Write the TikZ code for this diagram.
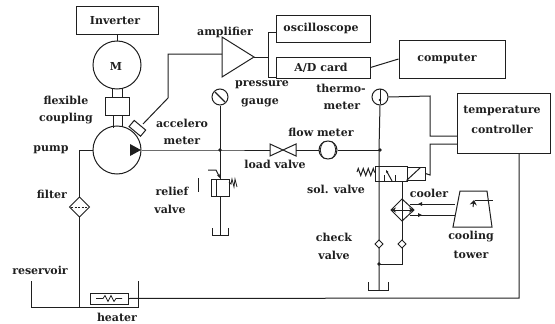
\documentclass[tikz,border=0pt]{standalone}
\usepackage{fontspec}
\setmainfont{DejaVu Serif}
\usetikzlibrary{calc,arrows.meta,decorations.pathmorphing}
\definecolor{ink}{gray}{0.12}
\tikzset{
 box/.style={draw,rectangle,inner sep=0pt,minimum width=#1},
 boxh/.style={minimum height=#1},
 circ/.style={draw,circle,inner sep=0pt,minimum size=#1},
 lbl/.style={inner sep=0pt,text=ink,font=\fontsize{11}{12}\selectfont\bfseries},
 dotj/.style={circle,fill=ink,inner sep=0pt,minimum size=3.6pt},
 zig/.style={decorate,decoration={zigzag,segment length=5pt,amplitude=3.5pt}},
}
\begin{document}
\begin{tikzpicture}[x=1pt,y=-1pt,line width=1pt,color=ink]
\useasboundingbox (0,0) rectangle (555,324);
% boxes
\node[box=82pt,boxh=28pt] (inv) at (117,20) {};
\node[circ=48pt] (motor) at (117,65) {};
\node[box=24pt,boxh=18pt] (coup) at (117,106) {};
\node[circ=48pt] (pump) at (117,150) {};
\node[box=94pt,boxh=27pt] (osc) at (323,28.5) {};
\node[box=94pt,boxh=21pt] (adc) at (323,67.5) {};
\node[box=106pt,boxh=38pt] (comp) at (452,59) {};
\node[box=93pt,boxh=60pt] (tc) at (503.5,123) {};
\node[box=38pt,boxh=11pt] (heat) at (109,298.5) {};
\node[box=18pt,boxh=17pt] (relief) at (220,187.5) {};
\node[box=32pt,boxh=15pt] (sol) at (391,173.5) {};
\node[box=18pt,boxh=13pt] (solen) at (416,173.5) {};
\node[circ=16pt] (pg) at (220,97) {};
\node[circ=16pt] (th) at (380,97) {};
\node[circ=18pt] (fm) at (328,150) {};
% coordinates
\coordinate (j1) at (220,150);
\coordinate (j2) at (380,150);
\coordinate (j3) at (379,264);
\coordinate (lvL) at (270,150);
\coordinate (lvR) at (296,150);
\coordinate (amp) at (254,57);
\coordinate (ampin) at (222,54);
\coordinate (acc) at (143,124);
\coordinate (cv1) at (379,244);
\coordinate (cv2) at (402,244);
% motor shafts
\draw (inv.south) -- (motor.north);
\draw (112,88) -- (112,97) (122,88) -- (122,97);
\draw (113,115) -- (113,128) (122,115) -- (122,127);
% pump triangle
\fill (141,150) -- (130,144) -- (130,156) -- cycle;
% pump suction, filter, reservoir
\draw (pump.west) -- (79.5,150) -- (79.5,197);
\draw (79.5,217) -- (79.5,307);
\draw (79.5,197) -- (89.5,207) -- (79.5,217) -- (69.5,207) -- cycle;
\draw[dash pattern=on 2pt off 1.5pt] (71,207) -- (88,207);
\draw (31,281) -- (31,307) -- (138,307) -- (138,281);
% heater
\draw[line width=0.7pt] (96,298.5) -- ++(7,0) -- ++(2,-3) -- ++(3,6) -- ++(3,-6) -- ++(3,6) -- ++(2,-3) -- ++(6,0);
\draw (heat.east) -- (519,298) -- (519,153);
% main line
\draw (pump.east) -- (j1) -- (lvL);
\draw (270,144) -- (296,156) -- (296,144) -- (270,156) -- cycle;
\draw (lvR) -- (fm.west);
\draw (fm.east) -- (j2);
\node[dotj] at (j1) {};
\node[dotj] at (j2) {};
\draw[line width=.8pt] (324,141.5) .. controls (319,147) and (319,153) .. (324,158.5);
\draw[line width=.8pt] (332,141.5) .. controls (337,147) and (337,153) .. (332,158.5);
% gauges
\draw (pg.south) -- (relief.north);
\draw[line width=1.2pt] (215,92) -- (225,102);
\draw (relief.south) -- (220,235);
\draw (212,228) -- (212,235) -- (228,235) -- (228,228);
\draw[line width=.8pt] (216,179) -- (216,196);
\draw[-{Stealth[length=4pt,width=3pt]}] (208,170) -- (216,170) -- (220,178);
\draw[line width=0.8pt] (229,182) -- (231,184) -- (232,179) -- (234,187) -- (235,179) -- (237,187);
\draw[line width=.6pt] (198,178) -- (198,192);
% accelerometer
\draw (ampin) -- (168,54) -- (168,98) -- (acc);
\draw[rotate around={-40:(137,128)}] (130,124) rectangle (145,132);
% amplifier
\draw (222,37) -- (amp) -- (222,77) -- cycle;
\draw (amp) -- (268,57) -- (268,32) -- (276,32);
\draw (268,57) -- (268,77) -- (276,77);
\draw (adc.east) -- (comp.west);
% thermometer
\draw (th.south) -- (379,150) -- (379,290);
\draw[line width=.7pt] (380,89) -- (380,104);
\fill (380,100) circle (1.4pt);
\draw (th.east) -- (430,96) -- (430,136) -- (457,136);
\draw (457,144) -- (430,144) -- (430,175) -- (solen.east);
\draw (solen.south west) -- ++(14,-13);
\draw[zig] (357,172) -- (375,172);
\draw[-{Stealth[length=3pt,width=2.5pt]}] (392,181) -- (386,170);
\draw[line width=0.7pt] (384,181) -- (384,175) (395,181) -- (395,175);
\draw (402,181) -- (402,199);
\draw (402,221) -- (402,264) -- (j3);
\node[dotj] at (j3) {};
% cooler
\draw (402,199) -- (414,210) -- (402,221) -- (391,210) -- cycle;
\draw[{Stealth[length=5pt,width=5pt]}-{Stealth[length=5pt,width=5pt]}] (391,210) -- (414,210);
\draw (402,200) -- (402,220);
\draw (410,204) -- (455,204) (410,215) -- (455,215);
\fill (418,204) -- (422,202) -- (422,206) -- cycle;
\fill (422,215) -- (418,213) -- (418,217) -- cycle;
% cooling tower
\draw (460,191) -- (487,191) -- (492,227) -- (453,227) -- cycle;
\draw (475,200) -- (493,200);
\draw[-{Stealth[length=5pt,width=7pt]}] (473,207) -- (474,200);
% check valves
\draw[fill=white] (cv1) ++(-4,0) -- ++(4,-4) -- ++(4,4) -- ++(-4,4) -- cycle;
\draw[fill=white] (cv2) ++(-4,0) -- ++(4,-4) -- ++(4,4) -- ++(-4,4) -- cycle;
% tank
\draw (368,282) -- (368,290) -- (388,290) -- (388,282);
% labels
\node[lbl] (t1) at (115,21) {Inverter};
\node[lbl] (t2) at (116,66) {M};
\node[lbl] (t3) at (66,100) {flexible};
\node[lbl] (t4) at (66,119) {coupling};
\node[lbl] (t5) at (182,123) {accelero};
\node[lbl] (t6) at (182,141) {meter};
\node[lbl] (t7) at (51,150) {pump};
\node[lbl] (t8) at (52,194) {filter};
\node[lbl] (t9) at (40,270) {reservoir};
\node[lbl] (t10) at (117,317) {heater};
\node[lbl] (t11) at (172,191) {relief};
\node[lbl] (t12) at (170,209) {valve};
\node[lbl] (t13) at (225,32) {amplifier};
\node[lbl] (t14) at (262,85) {pressure};
\node[lbl] (t15) at (260,103) {gauge};
\node[lbl] (t16) at (321,28) {oscilloscope};
\node[lbl] (t17) at (321,68) {A/D card};
\node[lbl] (t18) at (447,59) {computer};
\node[lbl] (t19) at (341,88) {thermo-};
\node[lbl] (t20) at (342,106) {meter};
\node[lbl] (t21) at (321,132) {flow meter};
\node[lbl] (t22) at (275,164) {load valve};
\node[lbl] (t23) at (502,111) {temperature};
\node[lbl] (t24) at (502,129) {controller};
\node[lbl] (t25) at (336,189) {sol. valve};
\node[lbl] (t26) at (429,193) {cooler};
\node[lbl] (t27) at (334,237) {check};
\node[lbl] (t28) at (334,255) {valve};
\node[lbl] (t29) at (471,237) {cooling};
\node[lbl] (t30) at (471,255) {tower};
\end{tikzpicture}
\end{document}
